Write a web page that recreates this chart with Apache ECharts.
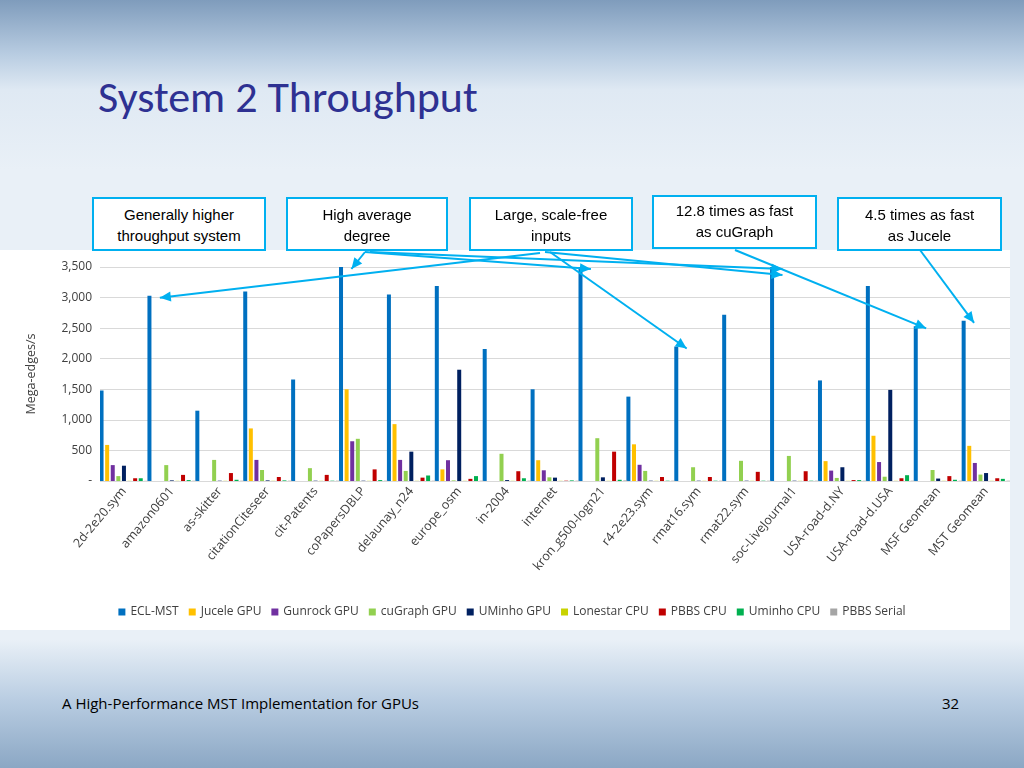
<!DOCTYPE html>
<html><head><meta charset="utf-8">
<script src="https://cdn.jsdelivr.net/npm/echarts@6/dist/echarts.min.js"></script>
<style>
body{margin:0;width:1024px;height:768px;overflow:hidden;font-family:"Open Sans","Noto Sans",sans-serif;
 background:linear-gradient(180deg,#7f9cbc 0,#b9cde2 55px,#dfe9f3 90px,#e9f0f7 170px,#e9f0f7 640px,#b9cde2 700px,#8ba7c4 768px);position:relative}
#title{position:absolute;left:98px;top:70px;font-size:44px;color:#2e3192;font-family:Calibri,"Open Sans",sans-serif}
#panel{position:absolute;left:0;top:250px;width:1010px;height:380px;background:#fff}
#chart{position:absolute;left:0;top:180px;width:1024px;height:460px}
.box{position:absolute;border:2.5px solid #00b0f0;background:#fff;font-family:"Liberation Sans",Arial,sans-serif;font-size:15px;text-align:center;line-height:21px;padding-top:5px;box-sizing:border-box}
#foot{position:absolute;left:62px;top:693px;font-size:15px;color:#000}
#num{position:absolute;left:942px;top:693px;font-size:15px}
</style></head><body>
<div id="title">System 2 Throughput</div>
<div id="panel"></div>
<div id="chart"></div>
<div class="box" style="left:92px;top:197px;width:174px;height:54px">Generally higher<br>throughput system</div>
<div class="box" style="left:286px;top:197px;width:162px;height:54px">High average<br>degree</div>
<div class="box" style="left:469px;top:197px;width:164px;height:54px">Large, scale-free<br>inputs</div>
<div class="box" style="left:652px;top:195px;width:165px;height:54px;padding-top:3px">12.8 times as fast<br>as cuGraph</div>
<div class="box" style="left:837px;top:197px;width:165px;height:54px">4.5 times as fast<br>as Jucele</div>
<div id="foot">A High-Performance MST Implementation for GPUs</div>
<div id="num">32</div>
<script>
var categories = ['2d-2e20.sym','amazon0601','as-skitter','citationCiteseer','cit-Patents','coPapersDBLP','delaunay_n24','europe_osm','in-2004','internet','kron_g500-logn21','r4-2e23.sym','rmat16.sym','rmat22.sym','soc-LiveJournal1','USA-road-d.NY','USA-road-d.USA','MSF Geomean','MST Geomean'];
var seriesNames = ['ECL-MST','Jucele GPU','Gunrock GPU','cuGraph GPU','UMinho GPU','Lonestar CPU','PBBS CPU','Uminho CPU','PBBS Serial'];
var colors = ['#0070c0','#ffc000','#7030a0','#92d050','#002060','#c8d200','#c00000','#00b050','#a5a5a5'];
var eclMst     = [1480,3030,1150,3100,1660,3500,3050,3190,2160,1500,3500,1380,2200,2720,3500,1645,3190,2530,2620];
var juceleGpu  = [590,0,0,860,0,1500,930,190,0,340,0,600,0,0,0,325,740,0,575];
var gunrockGpu = [260,0,0,345,0,650,345,340,0,175,0,265,0,0,0,170,310,0,295];
var cugraphGpu = [80,260,345,180,210,690,165,10,445,60,700,165,225,330,410,50,70,180,105];
var uminhoGpu  = [250,10,5,10,5,5,480,1820,15,55,60,5,5,5,5,225,1490,40,130];
var lonestarCpu= [3,3,3,3,3,3,3,3,3,3,3,3,3,3,3,3,3,3,3];
var pbbsCpu    = [45,100,130,65,100,190,55,35,160,5,480,65,65,150,160,15,45,80,45];
var uminhoCpu  = [45,15,20,10,5,15,90,80,45,10,20,5,5,5,5,15,95,20,35];
var pbbsSerial = [3,5,5,5,5,5,5,5,5,5,10,5,5,5,5,5,5,5,5];
var allData = [eclMst,juceleGpu,gunrockGpu,cugraphGpu,uminhoGpu,lonestarCpu,pbbsCpu,uminhoCpu,pbbsSerial];
// arrows: [start x, start y (page px), category index, value]
var arrows = [[540,253,1,3030],[365,252,5,3500],[365,252,10,3500],[370,252,14,3500],[545,252,14,3400],[550,252,12,2200],[735,250,17,2530],[920,250,18,2620]];

var chart = echarts.init(document.getElementById('chart'));
chart.setOption({
  animation:false,
  color:colors,
  textStyle:{fontFamily:'"Open Sans","Noto Sans",sans-serif'},
  grid:{left:100,right:14,top:87,bottom:159},
  legend:{bottom:17,left:'center',itemWidth:7,itemHeight:7,itemGap:10,icon:'rect',
    textStyle:{fontSize:12,color:'#404040'},data:seriesNames},
  xAxis:{type:'category',data:categories,
    axisLine:{show:false},axisTick:{show:false},
    axisLabel:{rotate:50,interval:0,fontSize:12.5,color:'#404040',margin:8}},
  yAxis:{type:'value',min:0,max:3500,interval:500,
    name:'Mega-edges/s',nameLocation:'middle',nameGap:62,nameTextStyle:{fontSize:12.5,color:'#404040'},
    axisLabel:{fontSize:12,color:'#404040',formatter:function(v){return v===0?'-':v.toLocaleString('en-US');}},
    splitLine:{lineStyle:{color:'#d9d9d9'}}},
  series:seriesNames.map(function(n,i){return {name:n,type:'bar',data:allData[i],barWidth:4,barGap:'40%'};})
});
var off = document.getElementById('chart').getBoundingClientRect().top;
function tip(a){var p=chart.convertToPixel({seriesIndex:0},[a[2],a[3]]);return [p[0]-12,p[1]+2];}
chart.setOption({graphic:arrows.map(function(a){
  var t=tip(a);
  return {type:'line',shape:{x1:a[0],y1:a[1]-off,x2:t[0],y2:t[1]},
    style:{stroke:'#00b0f0',lineWidth:2},z:100};
}).concat(arrows.map(function(a){
  var t=tip(a),x2=t[0],y2=t[1],x1=a[0],y1=a[1]-off;
  var ang=Math.atan2(y2-y1,x2-x1),L=11,W=5;
  var bx=x2-L*Math.cos(ang),by=y2-L*Math.sin(ang);
  return {type:'polygon',shape:{points:[[x2,y2],[bx+W*Math.sin(ang),by-W*Math.cos(ang)],[bx-W*Math.sin(ang),by+W*Math.cos(ang)]]},
    style:{fill:'#00b0f0'},z:100};
}))});
</script>
</body></html>
